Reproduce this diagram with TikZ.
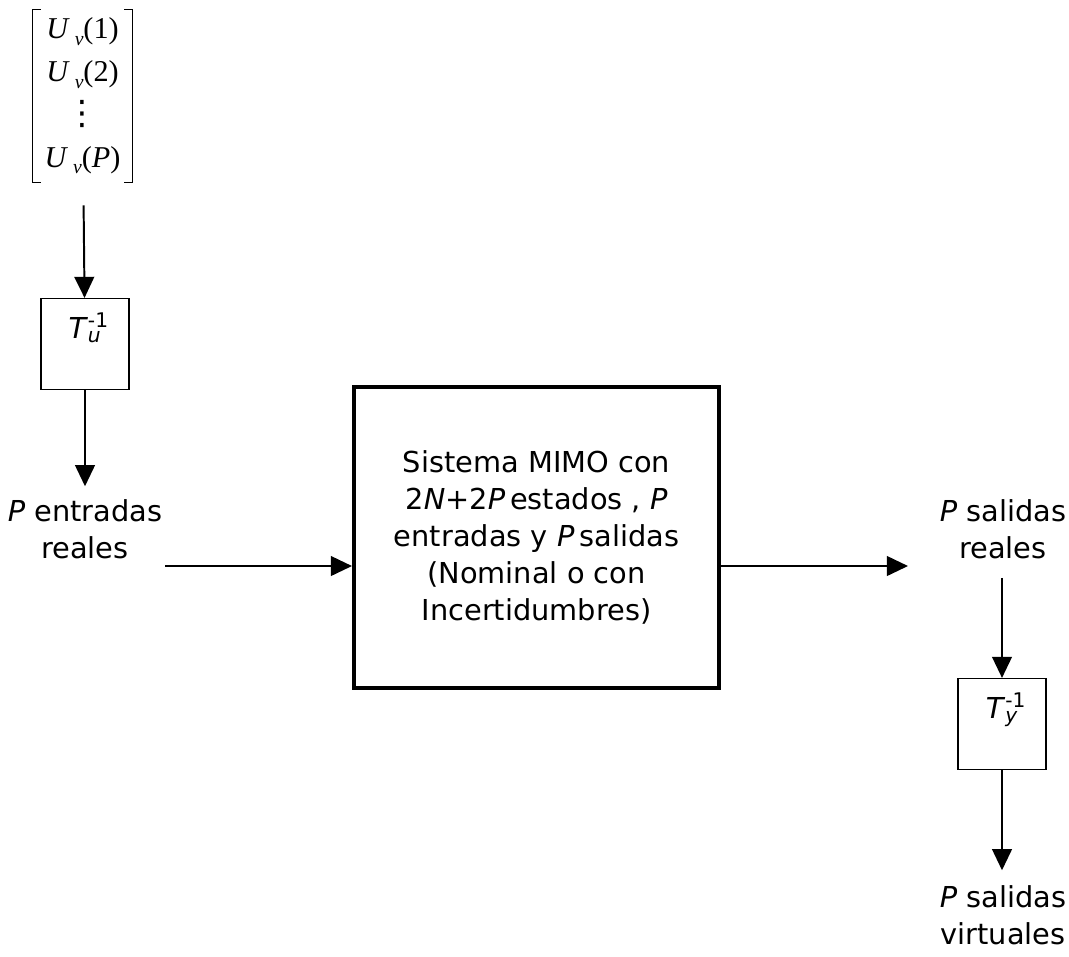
\documentclass[tikz,border=0pt]{standalone}
\usepackage{fontspec}
\setmainfont{DejaVu Sans}
\newfontfamily\timesfont{Liberation Serif}
\usetikzlibrary{arrows.meta,positioning}
\tikzset{
	block/.style={draw, line width=0.8pt, minimum width=2.2cm, minimum height=2.275cm, inner sep=0pt},
	bigblock/.style={draw, line width=2.8pt, minimum width=9.125cm, minimum height=7.525cm, align=center, font=\sysfont},
	arrow/.style={-{Triangle[length=15pt,width=14pt]}, line width=1.4pt},
	lbl/.style={align=center, font=\sysfont, inner sep=2pt}
}
\newcommand{\sysfont}{\fontsize{20.5}{26.3}\selectfont}
\newcommand{\Uv}[1]{\textit{U}\,\raisebox{-0.45ex}{\fontsize{14}{14}\selectfont\textit{v}}(#1)}
\newcommand{\Tinv}[1]{\textit{T}\rlap{\textsuperscript{-1}}\textsubscript{\textit{#1}}}
\newcommand{\dotcol}{{\normalfont\fontsize{24}{24}\selectfont ⋮}}

\begin{document}
\begin{tikzpicture}[x=0.025cm, y=-0.025cm]
	\useasboundingbox (0,0) rectangle (1069,956);
	
	%% input vector U_v
	\node[align=center, minimum width=2.475cm, minimum height=4.3cm, inner sep=0pt,
	font=\timesfont\fontsize{21.5}{30.5}\selectfont] (vec) at (82.5,96)
	{\Uv{1}\\ \Uv{2}\\ \dotcol\\ \Uv{\textit{P}}};
	\draw[line width=0.7pt] ([xshift=0.2cm]vec.north west) -| (vec.south west) -- ++(0.2cm,0);
	\draw[line width=0.7pt] ([xshift=-0.2cm]vec.north east) -| (vec.south east) -- ++(-0.2cm,0);
	
	%% input transformation
	\node[block, label={[font=\sysfont, below=2.5mm]north:\Tinv{u}}] (tu) at (85,344) {};
	\node[lbl] (inlbl) at (85,529) {\textit{P} entradas\\reales};
	
	%% plant
	\node[bigblock] (sys) at (536.5,537.5)
	{Sistema MIMO con\\
		2\textit{N}+2\textit{P}\,estados , \textit{P}\\
		entradas y \textit{P}\,salidas\\
		(Nominal o con\\
		Incertidumbres)};
	
	%% output side
	\node[lbl] (outlbl) at (1003,529) {\textit{P} salidas\\reales};
	\node[block, label={[font=\sysfont, below=2.5mm]north:\Tinv{y}}] (ty) at (1002,724) {};
	\node[lbl] (virtlbl) at (1003,915) {\textit{P} salidas\\virtuales};
	
	\coordinate (inpt) at (165,566);
	\coordinate (outpt) at (908,566);
	
	%% connections
	\draw[arrow, shorten <=5.75mm] (vec) -- (tu);
	\draw[arrow, shorten >=2.5mm] (tu) -- (inlbl);
	\draw[arrow] (inpt) -- (inpt -| sys.west);
	\draw[arrow] (outpt -| sys.east) -- (outpt);
	\draw[arrow, shorten <=4mm] (outlbl.south -| ty) -- (ty);
	\draw[arrow, shorten >=3mm] (ty) -- (virtlbl.north -| ty);
	
\end{tikzpicture}
\end{document}
